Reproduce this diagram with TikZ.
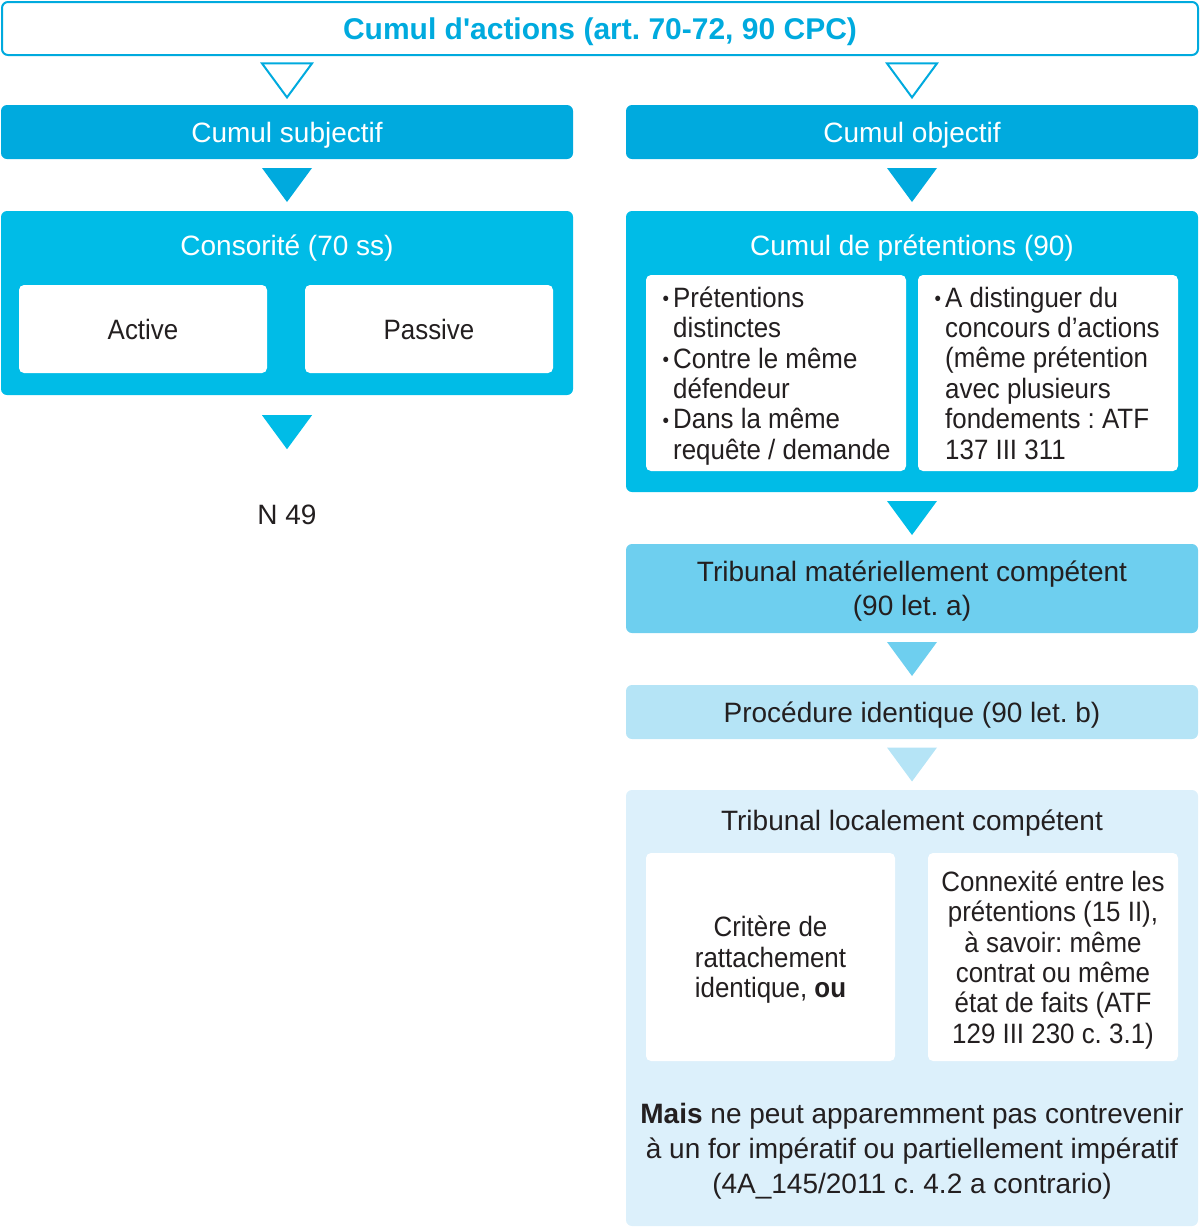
\documentclass[tikz,border=0pt]{standalone}
\usepackage{fontspec}
\setmainfont{Liberation Sans}
\newfontfamily\etroit[FakeStretch=0.925]{Liberation Sans}
\usetikzlibrary{calc}
\definecolor{cyanA}{HTML}{00AADE}
\definecolor{cyanB}{HTML}{00BCE7}
\definecolor{cyanC}{HTML}{6ECFEF}
\definecolor{cyanD}{HTML}{B5E4F6}
\definecolor{cyanE}{HTML}{DCF0FB}
\definecolor{ink}{HTML}{231F20}
\frenchspacing
\newcommand\bul{\llap{\raisebox{1.5pt}{\fontsize{20}{20}\selectfont\textbullet}\hspace{4pt}}}
\newcommand\fleche[3]{\path[#3] ($(#1)!.5!(#2)$) +(-25,-17) -- +(25,-17) -- +(0,17) -- cycle;}
\begin{document}
\begin{tikzpicture}[x=1pt,y=-1pt,
 every node/.style={text depth=0pt},
 box/.style={rounded corners=6pt,minimum width=572,inner sep=0pt,align=center,font=\fontsize{28}{34}\selectfont},
 inbox/.style={fill=white,rounded corners=5pt,inner sep=0pt,align=center,text=ink,font=\etroit\fontsize{28}{30.4}\selectfont},
 lst/.style={anchor=west,inner sep=0pt,align=left,text=ink,font=\etroit\fontsize{28}{30.4}\selectfont},
 hd/.style={inner sep=0pt,font=\fontsize{28}{34}\selectfont},
 open/.style={draw=cyanA,line width=2pt,fill=white},
 full/.style={fill=#1}]
 \useasboundingbox (0,0) rectangle (1200,1227);
 \node[box,draw=cyanA,line width=2pt,minimum width=1196,minimum height=53,text=cyanA,font=\fontsize{30}{34}\selectfont\bfseries] (titre) at (600,28.5) {Cumul d\textquotesingle actions (art. 70-72, 90 CPC)};
 \node[box,fill=cyanA,minimum height=54,text=white] (subj) at (287,132) {Cumul subjectif};
 \node[box,fill=cyanA,minimum height=54,text=white] (obj) at (912,132) {Cumul objectif};
 \fleche{titre.south -| subj.north}{subj.north}{open}
 \fleche{titre.south -| obj.north}{obj.north}{open}
 \node[box,fill=cyanB,minimum height=184] (cons) at (287,303) {};
 \node[hd,text=white] (consT) at (287,245) {Consorité (70 ss)};
 \node[inbox,minimum width=248,minimum height=88] (act) at (143,329) {Active};
 \node[inbox,minimum width=248,minimum height=88] (pass) at (429,329) {Passive};
 \fleche{subj.south}{cons.north}{full=cyanA}
 \node[hd,text=ink] (n49) at (287,515) {N 49};
 \path[full=cyanB] ($(cons.south)+(0,37)$) +(-25,-17) -- +(25,-17) -- +(0,17) -- cycle;
 \node[box,fill=cyanB,minimum height=281] (pret) at (912,351.5) {};
 \node[hd,text=white] (pretT) at (912,245) {Cumul de prétentions (90)};
 \node[inbox,minimum width=260,minimum height=196] (pretG) at (776,373) {};
 \node[inbox,minimum width=260,minimum height=196] (pretD) at (1048,373) {};
 \node[lst] (lstG) at (673,373) {\bul Prétentions\\distinctes\\\bul Contre le même\\défendeur\\\bul Dans la même\\requête / demande};
 \node[lst] (lstD) at (945,373) {\bul A distinguer du\\concours d’actions\\(même prétention\\avec plusieurs\\fondements : ATF\\137 III 311};
 \fleche{obj.south}{pret.north}{full=cyanA}
 \node[box,fill=cyanC,minimum height=89,text=ink] (mat) at (912,588.5) {Tribunal matériellement compétent\\(90 let. a)};
 \fleche{pret.south}{mat.north}{full=cyanB}
 \node[box,fill=cyanD,minimum height=54,text=ink] (proc) at (912,712) {Procédure identique (90 let. b)};
 \fleche{mat.south}{proc.north}{full=cyanC}
 \node[box,fill=cyanE,minimum height=436] (loc) at (912,1008) {};
 \fleche{proc.south}{loc.north}{full=cyanD}
 \node[hd,text=ink] (locT) at (912,820) {Tribunal localement compétent};
 \node[inbox,minimum width=249,minimum height=208] (crit) at (770.5,957) {Critère de\\rattachement\\identique, \textbf{ou}};
 \node[inbox,minimum width=250,minimum height=208] (conn) at (1053,957) {Connexité entre les\\prétentions (15 II),\\à savoir: même\\contrat ou même\\état de faits (ATF\\129 III 230 c. 3.1)};
 \node[hd,align=center,text=ink,font=\fontsize{28}{35}\selectfont] (mais) at (912,1148) {\textbf{Mais} ne peut apparemment pas contrevenir\\à un for impératif ou partiellement impératif\\(4A\_145/2011 c. 4.2 a contrario)};
\end{tikzpicture}
\end{document}
